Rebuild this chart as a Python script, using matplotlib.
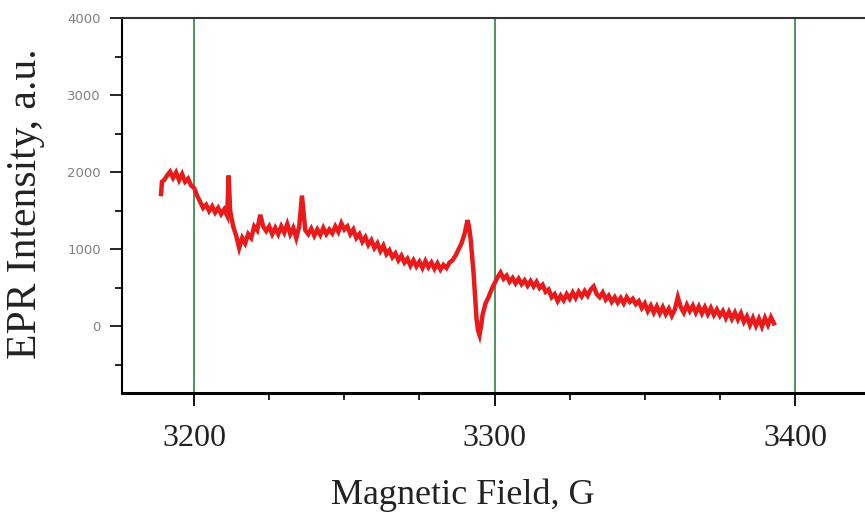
import matplotlib
matplotlib.use("Agg")
import matplotlib.pyplot as plt
from matplotlib.ticker import MultipleLocator

# EPR spectrum (field in G, intensity in a.u.)
field = [3189, 3189.3, 3190, 3191, 3192, 3193, 3194, 3195, 3196, 3197, 3198, 3199,
         3200, 3201, 3202, 3203, 3204, 3205, 3206, 3207, 3208, 3209, 3210, 3211,
         3211.5, 3212, 3213, 3214, 3215, 3216, 3217, 3218, 3219, 3220, 3221, 3222,
         3223, 3224, 3225, 3226, 3227, 3228, 3229, 3230, 3231, 3232, 3233, 3234,
         3235, 3235.9, 3237, 3238, 3239, 3240, 3241, 3242, 3243, 3244, 3245, 3246,
         3247, 3248, 3249, 3250, 3251, 3252, 3253, 3254, 3255, 3256, 3257, 3258,
         3259, 3260, 3261, 3262, 3263, 3264, 3265, 3266, 3267, 3268, 3269, 3270,
         3271, 3272, 3273, 3274, 3275, 3276, 3277, 3278, 3279, 3280, 3281, 3282,
         3283, 3284, 3285, 3286, 3287, 3288, 3289, 3290, 3291, 3291.5, 3292, 3293,
         3294, 3294.5, 3295, 3295.5, 3296, 3297, 3298, 3299, 3300, 3301, 3302, 3303,
         3304, 3305, 3306, 3307, 3308, 3309, 3310, 3311, 3312, 3313, 3314, 3315,
         3316, 3317, 3318, 3319, 3320, 3321, 3322, 3323, 3324, 3325, 3326, 3327,
         3328, 3329, 3330, 3331, 3332, 3333, 3334, 3335, 3336, 3337, 3338, 3339,
         3340, 3341, 3342, 3343, 3344, 3345, 3346, 3347, 3348, 3349, 3350, 3351,
         3352, 3353, 3354, 3355, 3356, 3357, 3358, 3359, 3360, 3361, 3362, 3363,
         3364, 3365, 3366, 3367, 3368, 3369, 3370, 3371, 3372, 3373, 3374, 3375,
         3376, 3377, 3378, 3379, 3380, 3381, 3382, 3383, 3384, 3385, 3386, 3387,
         3388, 3389, 3390, 3391, 3392, 3393]
intensity = [1720, 1880, 1900, 1960, 2010, 1930, 2000, 1900, 1980, 1880, 1920, 1830,
             1800, 1700, 1620, 1540, 1580, 1500, 1560, 1480, 1540, 1460, 1520, 1440,
             1960, 1500, 1300, 1180, 1020, 1150, 1080, 1200, 1150, 1300, 1250, 1450,
             1300, 1240, 1300, 1200, 1280, 1200, 1300, 1220, 1330, 1200, 1280, 1150,
             1300, 1700, 1250, 1200, 1270, 1180, 1260, 1190, 1280, 1200, 1260, 1210,
             1300, 1230, 1340, 1260, 1300, 1200, 1260, 1150, 1200, 1100, 1160, 1060,
             1120, 1020, 1080, 980, 1050, 940, 990, 900, 950, 860, 920, 830,
             880, 790, 860, 780, 840, 760, 850, 770, 830, 750, 820, 740,
             800, 760, 830, 860, 920, 1000, 1080, 1200, 1380, 1300, 1150, 700,
             100, -50, -110, 0, 150, 300, 380, 480, 560, 640, 700, 620,
             660, 580, 630, 560, 620, 550, 600, 530, 590, 520, 580, 500,
             540, 450, 480, 380, 420, 330, 400, 340, 420, 360, 440, 370,
             450, 390, 460, 400, 480, 520, 420, 380, 440, 350, 400, 320,
             380, 310, 370, 300, 380, 320, 360, 290, 330, 240, 300, 200,
             270, 180, 260, 170, 250, 160, 230, 140, 220, 380, 250, 180,
             280, 200, 270, 180, 260, 170, 250, 160, 240, 150, 220, 140,
             200, 110, 190, 100, 180, 90, 170, 60, 130, 20, 110, 10,
             100, 0, 110, 20, 120, 40]

marker_fields = [3200, 3300, 3400]
x_major = [3200, 3300, 3400]
y_major = [0, 1000, 2000, 3000, 4000]


def main():
    fig = plt.figure(figsize=(8.65, 5.12), dpi=100)
    ax = fig.add_axes([0.1407, 0.2324, 0.8593, 0.7315])

    for xv in marker_fields:
        ax.axvline(xv, color="#3d8c4c", linewidth=1.3, zorder=1)

    ax.plot(field, intensity, color="#e81a1a", linewidth=3.2,
            solid_joinstyle="miter", zorder=3)

    ax.set_xlim(3175.9, 3423.3)
    ax.set_ylim(-864, 4000)

    ax.set_xticks(x_major)
    ax.set_xticklabels([str(v) for v in x_major], fontfamily="Liberation Serif",
                       fontsize=23, color="#222222")
    ax.xaxis.set_minor_locator(MultipleLocator(25))
    ax.set_yticks(y_major)
    ax.set_yticklabels([str(v) for v in y_major], fontfamily="DejaVu Sans",
                       fontsize=9.5, color="#808080")
    ax.yaxis.set_minor_locator(MultipleLocator(500))

    ax.tick_params(axis="x", which="major", direction="out", length=9,
                   width=1.3, pad=13)
    ax.tick_params(axis="x", which="minor", direction="out", length=5, width=1.2)
    ax.tick_params(axis="y", which="major", direction="out", length=9,
                   width=1.2, pad=6)
    ax.tick_params(axis="y", which="minor", direction="out", length=5, width=1.2)

    ax.spines["right"].set_visible(False)
    ax.spines["bottom"].set_linewidth(2.2)
    ax.spines["left"].set_linewidth(1.5)
    ax.spines["top"].set_linewidth(1.5)
    ax.spines["top"].set_color("#333333")

    fig.text(463 / 865, 1 - 495 / 512, "Magnetic Field, G", ha="center",
             va="center", fontfamily="Liberation Serif", fontsize=26,
             color="#222222")
    fig.text(26 / 865, 1 - 204 / 512, "EPR Intensity, a.u.", rotation=90,
             ha="center", va="center", fontfamily="Liberation Serif",
             fontsize=30, color="#222222")

    fig.savefig("out.png", dpi=100)


if __name__ == "__main__":
    main()
